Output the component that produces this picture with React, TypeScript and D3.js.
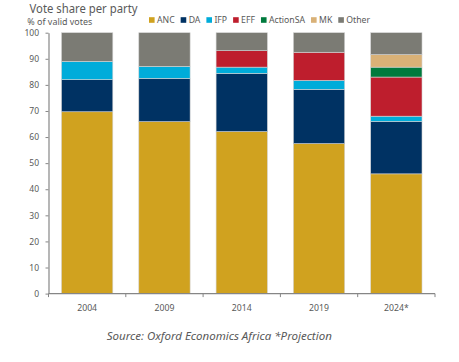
import { useEffect, useRef } from 'react';
import * as d3 from 'd3';

// chart data
const years = ['2004', '2009', '2014', '2019', '2024*'];
const parties = ['ANC', 'DA', 'IFP', 'EFF', 'ActionSA', 'MK', 'Other'];
const partyColors = ['#D0A21F', '#003263', '#00ACDA', '#BE1E2D', '#007A3D', '#D9B177', '#7B7B74'];

const anc = [69.7, 65.9, 62.1, 57.5, 45.9];
const da = [12.3, 16.6, 22.3, 20.8, 20.1];
const ifp = [7.0, 4.6, 2.4, 3.4, 2.0];
const eff = [0, 0, 6.3, 10.8, 15.0];
const actionSA = [0, 0, 0, 0, 3.8];
const mk = [0, 0, 0, 0, 4.8];
const other = [11.0, 12.9, 6.9, 7.5, 8.4];

const yTicks = [0, 10, 20, 30, 40, 50, 60, 70, 80, 90, 100];

const FONT = "'Segoe UI', 'Noto Sans', 'Open Sans', sans-serif";
const TEXT = '#595959';
const AXIS = '#868686';

const App = () => {
    const ref = useRef<SVGSVGElement>(null);

    useEffect(() => {
        const svg = d3.select(ref.current);
        svg.selectAll('*').remove();

        // build the stack table from the series arrays
        const series = [anc, da, ifp, eff, actionSA, mk, other];
        const rows = years.map((yr, i) => {
            const row: any = { year: yr };
            parties.forEach((p, j) => { row[p] = series[j][i]; });
            return row;
        });
        const stacked = d3.stack().keys(parties)(rows);

        const x = d3.scaleBand().domain(years).range([48.5, 435]).paddingInner(0.336).paddingOuter(0.168);
        const y = d3.scaleLinear().domain([0, 100]).range([293.6, 32.7]);
        const color = d3.scaleOrdinal<string>().domain(parties).range(partyColors);

        // title + subtitle
        svg.append('text').attr('x', 29.5).attr('y', 12.8).attr('font-size', 11.8)
            .attr('textLength', 108).attr('lengthAdjust', 'spacingAndGlyphs')
            .attr('fill', TEXT).text('Vote share per party');
        svg.append('text').attr('x', 27.3).attr('y', 25).attr('font-size', 8.8)
            .attr('textLength', 65).attr('lengthAdjust', 'spacingAndGlyphs')
            .attr('fill', TEXT).text('% of valid votes');

        // bars
        svg.append('g').selectAll('g').data(stacked).join('g')
            .attr('fill', d => color(d.key))
            .selectAll('rect').data(d => d.filter(s => s[1] - s[0] > 0)).join('rect')
            .attr('x', (d: any) => x(d.data.year)!)
            .attr('width', x.bandwidth())
            .attr('y', d => y(d[1]))
            .attr('height', d => y(d[0]) - y(d[1]))
            .attr('stroke', '#d4d4d4')
            .attr('stroke-width', 0.6);

        // y axis
        const yAxis = svg.append('g').attr('transform', 'translate(48.5,0)')
            .call(d3.axisLeft(y).tickValues(yTicks).tickSize(3).tickSizeOuter(0));
        yAxis.select('.domain').attr('stroke', AXIS).attr('stroke-width', 1.2);
        yAxis.selectAll('line').attr('stroke', AXIS);
        yAxis.selectAll('text').attr('fill', TEXT).attr('font-size', 8.5).attr('font-family', FONT)
            .attr('x', -9.5);

        // x axis, ticks on the category boundaries
        const gx = svg.append('g').attr('transform', 'translate(0,293.6)');
        gx.append('line').attr('x1', 48.5).attr('x2', 435).attr('stroke', AXIS).attr('stroke-width', 1.2);
        const step = x.step();
        const bounds = years.map(yr => x(yr)! - step * x.paddingOuter()).concat([435]);
        gx.selectAll('.tk').data(bounds).join('line').attr('class', 'tk')
            .attr('x1', d => d).attr('x2', d => d).attr('y1', 0).attr('y2', 3.5).attr('stroke', AXIS);
        gx.selectAll('.lbl').data(years).join('text').attr('class', 'lbl')
            .attr('x', d => x(d)! + x.bandwidth() / 2).attr('y', 17.1)
            .attr('text-anchor', 'middle').attr('font-size', 8.7).attr('fill', TEXT).text(d => d);

        // legend
        const lg = svg.append('g').attr('transform', 'translate(149,20)');
        let cx = 0;
        parties.forEach(p => {
            lg.append('rect').attr('x', cx).attr('y', -2.8).attr('width', 5.6).attr('height', 5.6).attr('fill', color(p));
            const t = lg.append('text').attr('x', cx + 8).attr('y', 3.2).attr('font-size', 8.7)
                .attr('fill', TEXT).text(p);
            cx += 8 + (t.node() as SVGTextElement).getComputedTextLength() + 6;
        });

        // source note
        svg.append('text').attr('x', 219.3).attr('y', 339.5).attr('text-anchor', 'middle')
            .attr('font-size', 11.5).attr('font-style', 'italic').attr('fill', TEXT)
            .attr('textLength', 225).attr('lengthAdjust', 'spacingAndGlyphs')
            .text('Source: Oxford Economics Africa *Projection');
    }, []);

    return (
        <svg ref={ref} width={459} height={362}
            style={{ position: 'absolute', left: 0, top: 0, background: '#fff', fontFamily: FONT }} />
    );
};

export default App;
